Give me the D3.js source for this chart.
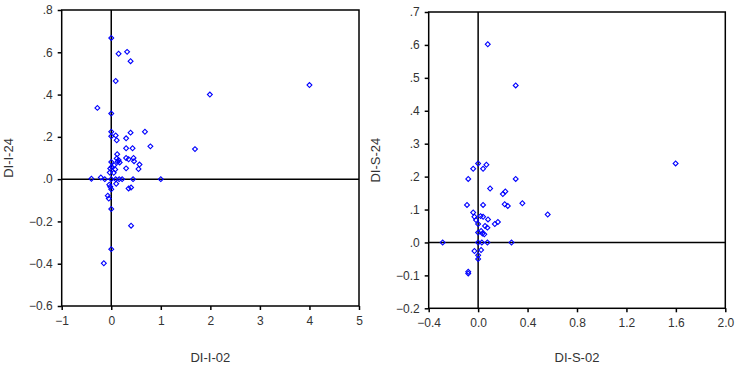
<!DOCTYPE html>
<html>
<head>
<meta charset="utf-8">
<script src="https://cdn.jsdelivr.net/npm/d3@7"></script>
<style>
  body { margin: 0; background: #fff; }
  svg { display: block; font-family: Arial, "Liberation Sans", sans-serif; }
  .tick text { fill: #333; font-size: 12px; }
</style>
</head>
<body>
<svg id="chart" width="737" height="367"></svg>
<script>
// left panel: DI-I-02 vs DI-I-24
var leftX = [0, 0.148, 0.32, 0.39, 0.09, -0.28, 0, 1.99, 4.0, 0, 0, 0.09, 0.11, 0.30, 0.39, 0.68, 0.79, 1.69,
    0.30, 0.43, 0.12, 0.11, 0.15, 0.13, 0.30, 0.35, 0.45, 0.46, 0.57, 0.55, 0.30, 0, 0.01, -0.02, 0.06, 0.08,
    -0.03, -0.40, -0.21, -0.13, 0, 0.09, 0.16, 0.22, 0.44, 1.0, 0.10, -0.04, -0.02, 0, 0.35, 0.40, -0.07, -0.05,
    0, 0.40, 0, -0.15, 0.05, 0.17];
var leftY = [0.668, 0.593, 0.602, 0.558, 0.464, 0.337, 0.310, 0.400, 0.445, 0.224, 0.203, 0.207, 0.184, 0.193, 0.220, 0.224, 0.155, 0.142,
    0.146, 0.146, 0.118, 0.098, 0.090, 0.082, 0.100, 0.094, 0.100, 0.085, 0.069, 0.048, 0.051, 0.081, 0.058, 0.050, 0.066, 0.046,
    0.031, 0.002, 0.008, 0, 0, 0, 0, 0, 0, 0, -0.022, -0.026, -0.036, -0.048, -0.044, -0.040, -0.078, -0.092,
    -0.141, -0.220, -0.331, -0.398, 0.030, 0.079];

// right panel: DI-S-02 vs DI-S-24
var rightX = [0.078, 0.304, 1.598, 0, 0.067, 0.04, -0.04, -0.08, 0.304, 0.097, 0.20, 0.22, -0.09, 0.04, 0.215, 0.24,
    0.358, 0.563, -0.04, -0.03, -0.017, 0, 0.02, 0.04, 0.08, 0.16, 0.135, 0.056, 0.075, 0, 0.024, 0.035, 0.05,
    -0.287, 0, 0.03, 0.075, 0.27, -0.03, 0.024, 0, 0, -0.08, -0.08];
var rightY = [0.602, 0.477, 0.240, 0.240, 0.236, 0.224, 0.224, 0.193, 0.193, 0.164, 0.147, 0.155, 0.114, 0.114, 0.116, 0.111,
    0.119, 0.085, 0.091, 0.078, 0.068, 0.056, 0.080, 0.078, 0.070, 0.062, 0.056, 0.050, 0.045, 0.030, 0.035, 0.027, 0.025,
    0, 0, 0, 0, 0, -0.026, -0.023, -0.039, -0.050, -0.089, -0.094];

var leftXTicks = [-1, 0, 1, 2, 3, 4, 5];
var leftYTicks = [-0.6, -0.4, -0.2, 0, 0.2, 0.4, 0.6, 0.8];
var rightXTicks = [-0.4, 0, 0.4, 0.8, 1.2, 1.6, 2.0];
var rightYTicks = [-0.2, -0.1, 0, 0.1, 0.2, 0.3, 0.4, 0.5, 0.6, 0.7];

var svg = d3.select("#chart");

// strip the leading zero like ".8", "-.2"
function decFmt(d) {
    var s = d3.format(".1f")(d);
    return s.replace(/^(-?)0\./, "$1.");
}

function drawPanel(opt) {
    var g = svg.append("g");
    var x = d3.scaleLinear().domain(opt.xDomain).range([opt.left, opt.right]);
    var y = d3.scaleLinear().domain(opt.yDomain).range([opt.bottom, opt.top]);

    g.append("g")
        .attr("transform", "translate(0," + opt.bottom + ")")
        .call(d3.axisBottom(x).tickValues(opt.xTicks).tickFormat(opt.xFmt).tickSize(4).tickPadding(6))
        .call(a => a.select(".domain").remove())
        .call(a => a.selectAll("line").attr("stroke", "#000").attr("stroke-width", 1.5));

    g.append("g")
        .attr("transform", "translate(" + opt.left + ",0)")
        .call(d3.axisLeft(y).tickValues(opt.yTicks).tickFormat(decFmt).tickSize(4).tickPadding(5))
        .call(a => a.select(".domain").remove())
        .call(a => a.selectAll("line").attr("stroke", "#000").attr("stroke-width", 1.5));

    // frame
    g.append("rect")
        .attr("x", opt.left)
        .attr("y", opt.top)
        .attr("width", opt.right - opt.left)
        .attr("height", opt.bottom - opt.top)
        .attr("fill", "none")
        .attr("stroke", "#000")
        .attr("stroke-width", 1.5);

    // zero lines
    g.append("line")
        .attr("x1", x(0)).attr("x2", x(0))
        .attr("y1", opt.top).attr("y2", opt.bottom)
        .attr("stroke", "#000").attr("stroke-width", 1.5);
    g.append("line")
        .attr("x1", opt.left).attr("x2", opt.right)
        .attr("y1", y(0)).attr("y2", y(0))
        .attr("stroke", "#000").attr("stroke-width", 1.5);

    var pts = opt.xs.map((v, i) => ({ x: v, y: opt.ys[i] }));
    var sym = d3.symbol().type(d3.symbolSquare).size(12);
    g.selectAll(".pt")
        .data(pts)
        .enter().append("path")
        .attr("class", "pt")
        .attr("d", sym)
        .attr("transform", d => "translate(" + x(d.x) + "," + y(d.y) + ") rotate(45)")
        .attr("fill", "none")
        .attr("stroke", "#0000ff")
        .attr("stroke-width", 1.1);

    g.append("text")
        .attr("x", (opt.left + opt.right) / 2)
        .attr("y", 362)
        .attr("text-anchor", "middle")
        .style("font-size", "13px")
        .style("fill", "#333")
        .text(opt.xLabel);

    g.append("text")
        .attr("transform", "rotate(-90)")
        .attr("x", -(opt.top + opt.bottom) / 2)
        .attr("y", opt.yLabelX)
        .attr("text-anchor", "middle")
        .style("font-size", "13px")
        .style("fill", "#333")
        .text(opt.yLabel);
}

drawPanel({
    xs: leftX, ys: leftY,
    xDomain: [-1, 5], yDomain: [-0.6, 0.8],
    xTicks: leftXTicks, yTicks: leftYTicks,
    xFmt: d3.format("d"),
    left: 61.7, right: 359, top: 10, bottom: 306,
    xLabel: "DI-I-02", yLabel: "DI-I-24", yLabelX: 13
});

drawPanel({
    xs: rightX, ys: rightY,
    xDomain: [-0.4, 2.0], yDomain: [-0.2, 0.7],
    xTicks: rightXTicks, yTicks: rightYTicks,
    xFmt: d3.format(".1f"),
    left: 428.7, right: 725.3, top: 12, bottom: 308.3,
    xLabel: "DI-S-02", yLabel: "DI-S-24", yLabelX: 380
});
</script>
</body>
</html>
